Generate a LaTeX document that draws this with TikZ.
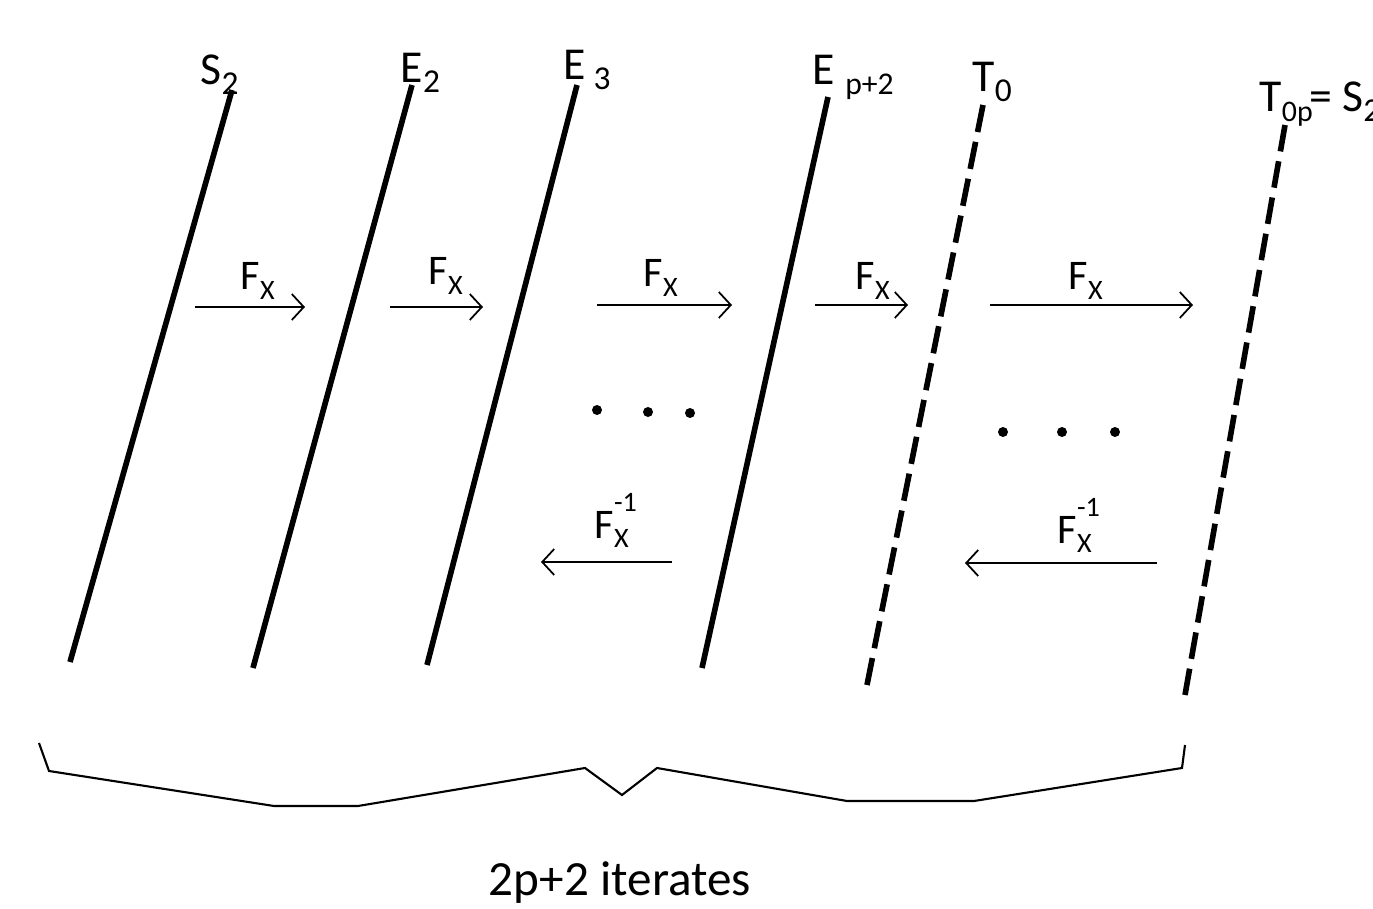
\documentclass[tikz,border=0pt]{standalone}
\usepackage{fontspec}
\setmainfont{Carlito}
\usetikzlibrary{arrows.meta}
\newcommand{\lowsub}[2][9.5]{\raisebox{-0.45ex}{\fontsize{#1}{#1}\selectfont #2}}
\newcommand{\fmap}{F\lowsub[8]{X}}
\newcommand{\finv}{F\rlap{\raisebox{1.3ex}{\fontsize{8}{8}\selectfont -1}}\lowsub[8]{X}}

\begin{document}
\begin{tikzpicture}[
  x=0.1mm, y=-0.1mm,
  font=\fontsize{13}{15}\selectfont, >={Straight Barb[length=1.2mm,width=2.6mm]},
  curve/.style={line width=1.6pt},
  dcurve/.style={line width=1.6pt, dash pattern=on #1 off 1mm},
  map/.style={->, line width=0.5pt},
  lbl/.style={inner sep=0pt, anchor=base west},
  flbl/.style={inner sep=0pt, anchor=base west, font=\fontsize{12}{14}\selectfont},
  dot/.style={circle, fill=black, inner sep=0pt, minimum size=1mm},
  brace/.style={line width=0.6pt}
]
\useasboundingbox (0,0) rectangle (1373,909);
\coordinate (s2t) at (232,90);   \coordinate (s2b) at (70,662);
\coordinate (e2t) at (412,85);   \coordinate (e2b) at (253,668);
\coordinate (e3t) at (577,85);   \coordinate (e3b) at (427,665);
\coordinate (ept) at (828,97);   \coordinate (epb) at (702,668);
\coordinate (t0t) at (983,105);  \coordinate (t0b) at (867,685);
\coordinate (tpt) at (1285,125); \coordinate (tpb) at (1185,695);
\draw[curve] (s2t) -- (s2b);
\draw[curve] (e2t) -- (e2b);
\draw[curve] (e3t) -- (e3b);
\draw[curve] (ept) -- (epb);
\draw[dcurve=2.76mm] (t0t) -- (t0b);
\draw[dcurve=2.68mm] (tpt) -- (tpb);
\node[lbl] (ls2) at (200,85) {S\lowsub{2}};
\node[lbl] (le2) at (400,83) {E\lowsub{2}};
\node[lbl] (le3) at (563,80) {E\,\lowsub{3}};
\node[lbl] (lep) at (812,85) {E \lowsub[9]{p+2}};
\node[lbl] (lt0) at (972,92) {T\lowsub{0}};
\node[lbl] (ltp) at (1259,112) {T\lowsub[8.5]{0p}\kern-1pt= S\lowsub{2}};
\coordinate (a1) at (195,307);  \coordinate (b1) at (305,307);
\coordinate (a2) at (390,307);  \coordinate (b2) at (483,307);
\coordinate (a3) at (597,305);  \coordinate (b3) at (732,305);
\coordinate (a4) at (815,305);  \coordinate (b4) at (908,305);
\coordinate (a5) at (990,305);  \coordinate (b5) at (1193,305);
\coordinate (a6) at (672,562);  \coordinate (b6) at (541,562);
\coordinate (a7) at (1157,563); \coordinate (b7) at (965,563);
\draw[map] (a1) -- (b1);
\draw[map] (a2) -- (b2);
\draw[map] (a3) -- (b3);
\draw[map] (a4) -- (b4);
\draw[map] (a5) -- (b5);
\draw[map] (a6) -- (b6);
\draw[map] (a7) -- (b7);
\node[flbl] (f1) at (240,290) {\fmap};
\node[flbl] (f2) at (428,285) {\fmap};
\node[flbl] (f3) at (643,287) {\fmap};
\node[flbl] (f4) at (855,290) {\fmap};
\node[flbl] (f5) at (1068,290) {\fmap};
\node[flbl] (g1) at (594,538) {\finv};
\node[flbl] (g2) at (1057,543) {\finv};
\node[dot] (d1) at (597,410) {};
\node[dot] (d2) at (648,412) {};
\node[dot] (d3) at (690,413) {};
\node[dot] (d4) at (1003,432) {};
\node[dot] (d5) at (1062,432) {};
\node[dot] (d6) at (1115,432) {};
\draw[brace] (39,743) -- (49,771) -- (274,806) -- (358,806) -- (585,768)
  -- (622,795) -- (657,768) -- (847,801) -- (974,801) -- (1182,768) -- (1185,745);
\node[font=\fontsize{14}{16}\selectfont] (iter) at (620,883) {2p+2 iterates};
\end{tikzpicture}
\end{document}
